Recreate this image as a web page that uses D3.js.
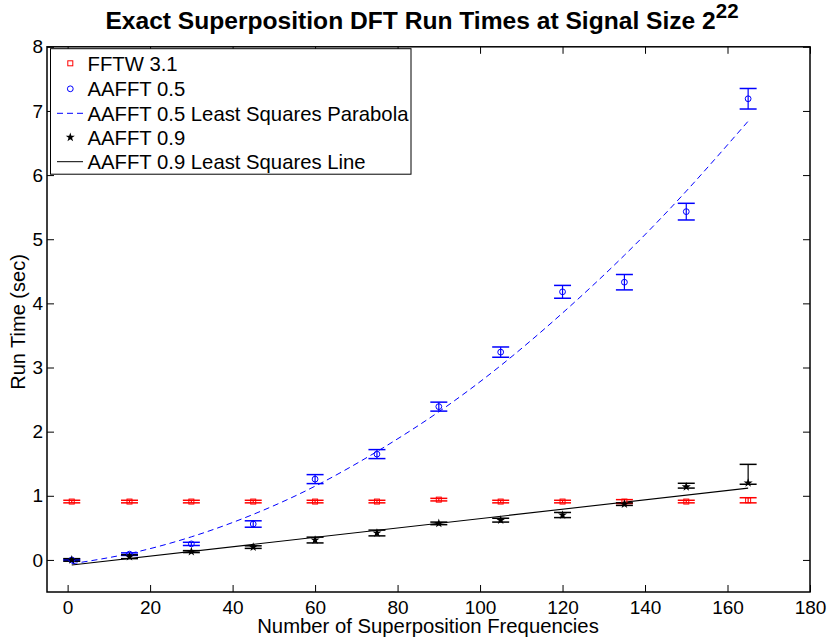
<!DOCTYPE html>
<html><head><meta charset="utf-8">
<script src="https://cdn.jsdelivr.net/npm/d3@7"></script>
<style>body{margin:0;background:#fff}svg{display:block;font-family:"Liberation Sans",Arial,sans-serif}</style>
</head><body><svg id="c" width="827" height="641"></svg>
<script>
const xs = [1, 15, 30, 45, 60, 75, 90, 105, 120, 135, 150, 165];
const fftw = [0.91, 0.91, 0.91, 0.91, 0.91, 0.91, 0.94, 0.91, 0.91, 0.91, 0.91, 0.93];
const fftwErr = [0.02, 0.02, 0.02, 0.02, 0.02, 0.02, 0.02, 0.02, 0.02, 0.03, 0.02, 0.04];
const aa05 = [0.00, 0.09, 0.25, 0.56, 1.26, 1.65, 2.39, 3.24, 4.18, 4.33, 5.43, 7.19];
const aa05Err = [0.01, 0.02, 0.025, 0.05, 0.07, 0.07, 0.07, 0.08, 0.10, 0.12, 0.13, 0.16];
const paraX = [1, 15, 30, 45, 60, 75, 90, 105, 120, 135, 150, 165];
const paraY = [-0.06, 0.10, 0.36, 0.71, 1.15, 1.69, 2.31, 3.03, 3.85, 4.75, 5.75, 6.84];
const aa09 = [0.00, 0.05, 0.13, 0.20, 0.31, 0.42, 0.57, 0.62, 0.70, 0.87, 1.14, 1.20];
const aa09Lo = [0.02, 0.03, 0.015, 0.02, 0.045, 0.045, 0.02, 0.03, 0.04, 0.02, 0.02, 0.02];
const aa09Hi = [0.02, 0.03, 0.015, 0.02, 0.045, 0.045, 0.02, 0.03, 0.04, 0.02, 0.055, 0.29];
const lineX = [1, 165];
const lineY = [-0.08, 1.12];
const xTicks = [0, 20, 40, 60, 80, 100, 120, 140, 160, 180];
const yTicks = [0, 1, 2, 3, 4, 5, 6, 7, 8];
const legendLabels = ["FFTW 3.1", "AAFFT 0.5", "AAFFT 0.5 Least Squares Parabola", "AAFFT 0.9", "AAFFT 0.9 Least Squares Line"];

const svg = d3.select("#c");
const L = 47, R = 810, T = 46.8, B = 592;
const x = d3.scaleLinear().domain([-5, 180]).range([L, R]);
const y = d3.scaleLinear().domain([-0.5, 8]).range([B, T]);

const tl = 7;
const gB = svg.append("g").attr("transform", `translate(0,${B})`)
  .call(d3.axisBottom(x).tickValues(xTicks).tickSizeInner(-tl).tickSizeOuter(0).tickPadding(8.5));
const gT = svg.append("g").attr("transform", `translate(0,${T})`)
  .call(d3.axisTop(x).tickValues(xTicks).tickSizeInner(-tl).tickSizeOuter(0).tickFormat(""));
const gL = svg.append("g").attr("transform", `translate(${L},0)`)
  .call(d3.axisLeft(y).tickValues(yTicks).tickSizeInner(-tl).tickSizeOuter(0).tickPadding(4));
const gR = svg.append("g").attr("transform", `translate(${R},0)`)
  .call(d3.axisRight(y).tickValues(yTicks).tickSizeInner(-tl).tickSizeOuter(0).tickFormat(""));
[gB, gT, gL, gR].forEach(g => {
  g.select(".domain").remove();
  g.selectAll("line").attr("stroke", "#000").attr("stroke-width", 1);
  g.selectAll("text").attr("font-size", 19).attr("fill", "#000").attr("font-family", '"Liberation Sans",Arial,sans-serif');
});
svg.append("rect").attr("x", L).attr("y", T).attr("width", R - L).attr("height", B - T)
  .attr("fill", "none").attr("stroke", "#000").attr("stroke-width", 1.5);

const plot = svg.append("g");
const cw = 8.5;
function errbars(color, vals, lo, hi) {
  xs.forEach((xv, i) => {
    const px = x(xv), y1 = y(vals[i] - lo[i]), y2 = y(vals[i] + hi[i]);
    plot.append("line").attr("x1", px).attr("x2", px).attr("y1", y1).attr("y2", y2).attr("stroke", color).attr("stroke-width", 1.2);
    [y1, y2].forEach(yy => plot.append("line").attr("x1", px - cw).attr("x2", px + cw).attr("y1", yy).attr("y2", yy).attr("stroke", color).attr("stroke-width", 1.5));
  });
}
const line = d3.line().x(d => x(d[0])).y(d => y(d[1]));

plot.append("path").attr("d", line.curve(d3.curveNatural)(paraX.map((v, i) => [v, paraY[i]])))
  .attr("fill", "none").attr("stroke", "#0000ff").attr("stroke-width", 1).attr("stroke-dasharray", "6,4");
plot.append("path").attr("d", d3.line().x(d => x(d[0])).y(d => y(d[1]))(lineX.map((v, i) => [v, lineY[i]])))
  .attr("fill", "none").attr("stroke", "#000").attr("stroke-width", 1.1);

errbars("#ff0000", fftw, fftwErr, fftwErr);
errbars("#0000ff", aa05, aa05Err, aa05Err);
errbars("#000", aa09, aa09Lo, aa09Hi);

const star = d3.symbol().type(d3.symbolStar).size(26);
function square(g, px, py) { g.append("rect").attr("x", px - 2.5).attr("y", py - 2.5).attr("width", 5).attr("height", 5).attr("fill", "none").attr("stroke", "#ff0000").attr("stroke-width", 1); }
function circ(g, px, py) { g.append("circle").attr("cx", px).attr("cy", py).attr("r", 2.9).attr("fill", "none").attr("stroke", "#0000ff").attr("stroke-width", 1); }
function st(g, px, py) { g.append("path").attr("d", star()).attr("transform", `translate(${px},${py})`).attr("fill", "#000"); }
xs.forEach((xv, i) => square(plot, x(xv), y(fftw[i])));
xs.forEach((xv, i) => circ(plot, x(xv), y(aa05[i])));
xs.forEach((xv, i) => st(plot, x(xv), y(aa09[i])));

const lg = svg.append("g");
lg.append("rect").attr("x", 50.5).attr("y", 48.7).attr("width", 360.5).attr("height", 125.5).attr("fill", "#fff").attr("stroke", "#000").attr("stroke-width", 1);
const rowY = [63.3, 88.8, 113.3, 137.3, 161.7];
legendLabels.forEach((t, i) => {
  lg.append("text").attr("x", 87.5).attr("y", rowY[i]).attr("dy", "0.36em").attr("font-size", 20.3).text(t);
});
square(lg, 70.3, rowY[0]);
circ(lg, 70.3, rowY[1]);
lg.append("line").attr("x1", 57).attr("x2", 83).attr("y1", rowY[2]).attr("y2", rowY[2]).attr("stroke", "#0000ff").attr("stroke-dasharray", "6,4");
st(lg, 70.3, rowY[3]);
lg.append("line").attr("x1", 57).attr("x2", 83).attr("y1", rowY[4]).attr("y2", rowY[4]).attr("stroke", "#000");

const title = svg.append("text").attr("x", 422).attr("y", 29).attr("text-anchor", "middle").attr("font-size", 24.6).attr("font-weight", "bold");
title.append("tspan").text("Exact Superposition DFT Run Times at Signal Size 2");
title.append("tspan").attr("dy", -11).attr("font-size", 20.5).text("22");
svg.append("text").attr("x", 428).attr("y", 633).attr("text-anchor", "middle").attr("font-size", 20.3).text("Number of Superposition Frequencies");
svg.append("text").attr("transform", "translate(25,322) rotate(-90)").attr("text-anchor", "middle").attr("font-size", 20).text("Run Time (sec)");
</script></body></html>
